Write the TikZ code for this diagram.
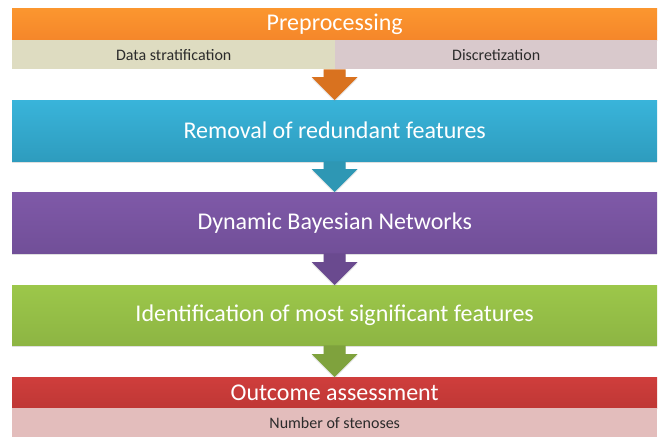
\documentclass[tikz,border=0pt]{standalone}
\usepackage{fontspec}
\setmainfont{Carlito}
\usetikzlibrary{calc,shadows}

% stage colours
\definecolor{preT}{HTML}{FB962F}\definecolor{preB}{HTML}{F5862A}
\definecolor{subL}{HTML}{DEDCC1}\definecolor{subR}{HTML}{D9C9CC}
\definecolor{remT}{HTML}{39B4DA}\definecolor{remB}{HTML}{2E9CBE}
\definecolor{dbnT}{HTML}{7F59A8}\definecolor{dbnB}{HTML}{714F98}
\definecolor{ideT}{HTML}{9CC74A}\definecolor{ideB}{HTML}{8DB543}
\definecolor{outT}{HTML}{CF3E3C}\definecolor{outB}{HTML}{BF3735}
\definecolor{numC}{HTML}{E3BDBC}
\definecolor{arrO}{HTML}{D9721F}\definecolor{arrB}{HTML}{2E97B4}
\definecolor{arrP}{HTML}{6A4A8F}\definecolor{arrG}{HTML}{7FA23D}
\definecolor{subtext}{HTML}{2B2B2B}

\tikzset{
  stage/.style={rectangle, anchor=north west, minimum width=645pt,
    inner sep=0pt, text=white, font=\fontsize{24}{28}\selectfont,
    drop shadow={opacity=0.25, shadow xshift=0pt, shadow yshift=-1.5pt}},
  substage/.style={rectangle, anchor=north west, inner sep=0pt,
    text=subtext, font=\fontsize{16}{19}\selectfont},
  flowarrow/.style={drop shadow={opacity=0.2, shadow xshift=0pt, shadow yshift=-1.5pt}}
}

% block arrow from point #1 (top of shaft) down to point #2 (tip)
\newcommand\blockarrow[3]{%
  \fill[#3, flowarrow] ($(#1)+(-11,0)$) -- ($(#1)+(11,0)$)
    -- ($(#2)+(11,-23)$) -- ($(#2)+(23,-23)$) -- (#2)
    -- ($(#2)+(-23,-23)$) -- ($(#2)+(-11,-23)$) -- cycle;}

\begin{document}
\begin{tikzpicture}[x=1pt, y=-1pt]
  \fill[white] (0,0) rectangle (660,439);
  \useasboundingbox (0,0) rectangle (660,439);

  % preprocessing block with its two sub-steps
  \node[stage, minimum height=32pt, top color=preT, bottom color=preB] (pre) at (12,8) {Preprocessing};
  \node[substage, fill=subL, minimum width=323pt, minimum height=29pt] (strat) at (12,40) {Data stratification};
  \node[substage, fill=subR, minimum width=322pt, minimum height=29pt] (disc) at (335,40) {Discretization};

  % main stages
  \node[stage, minimum height=61pt, top color=remT, bottom color=remB] (rem) at (12,100) {Removal of redundant features};
  \node[stage, minimum height=61pt, top color=dbnT, bottom color=dbnB] (dbn) at (12,192) {Dynamic Bayesian Networks};
  \node[stage, minimum height=60pt, top color=ideT, bottom color=ideB] (ide) at (12,285) {Identification of most significant features};

  % outcome block with its sub-step
  \node[stage, minimum height=31pt, top color=outT, bottom color=outB] (out) at (12,377) {Outcome assessment};
  \node[substage, fill=numC, minimum width=645pt, minimum height=29pt] (num) at (12,408) {Number of stenoses};

  % arrows between stages
  \coordinate (a1) at (strat.south east -| rem.north);
  \coordinate (a2) at (rem.south);
  \coordinate (a3) at (dbn.south);
  \coordinate (a4) at (ide.south);
  \blockarrow{a1}{rem.north}{arrO}
  \blockarrow{a2}{dbn.north}{arrB}
  \blockarrow{a3}{ide.north}{arrP}
  \blockarrow{a4}{out.north}{arrG}
\end{tikzpicture}
\end{document}
